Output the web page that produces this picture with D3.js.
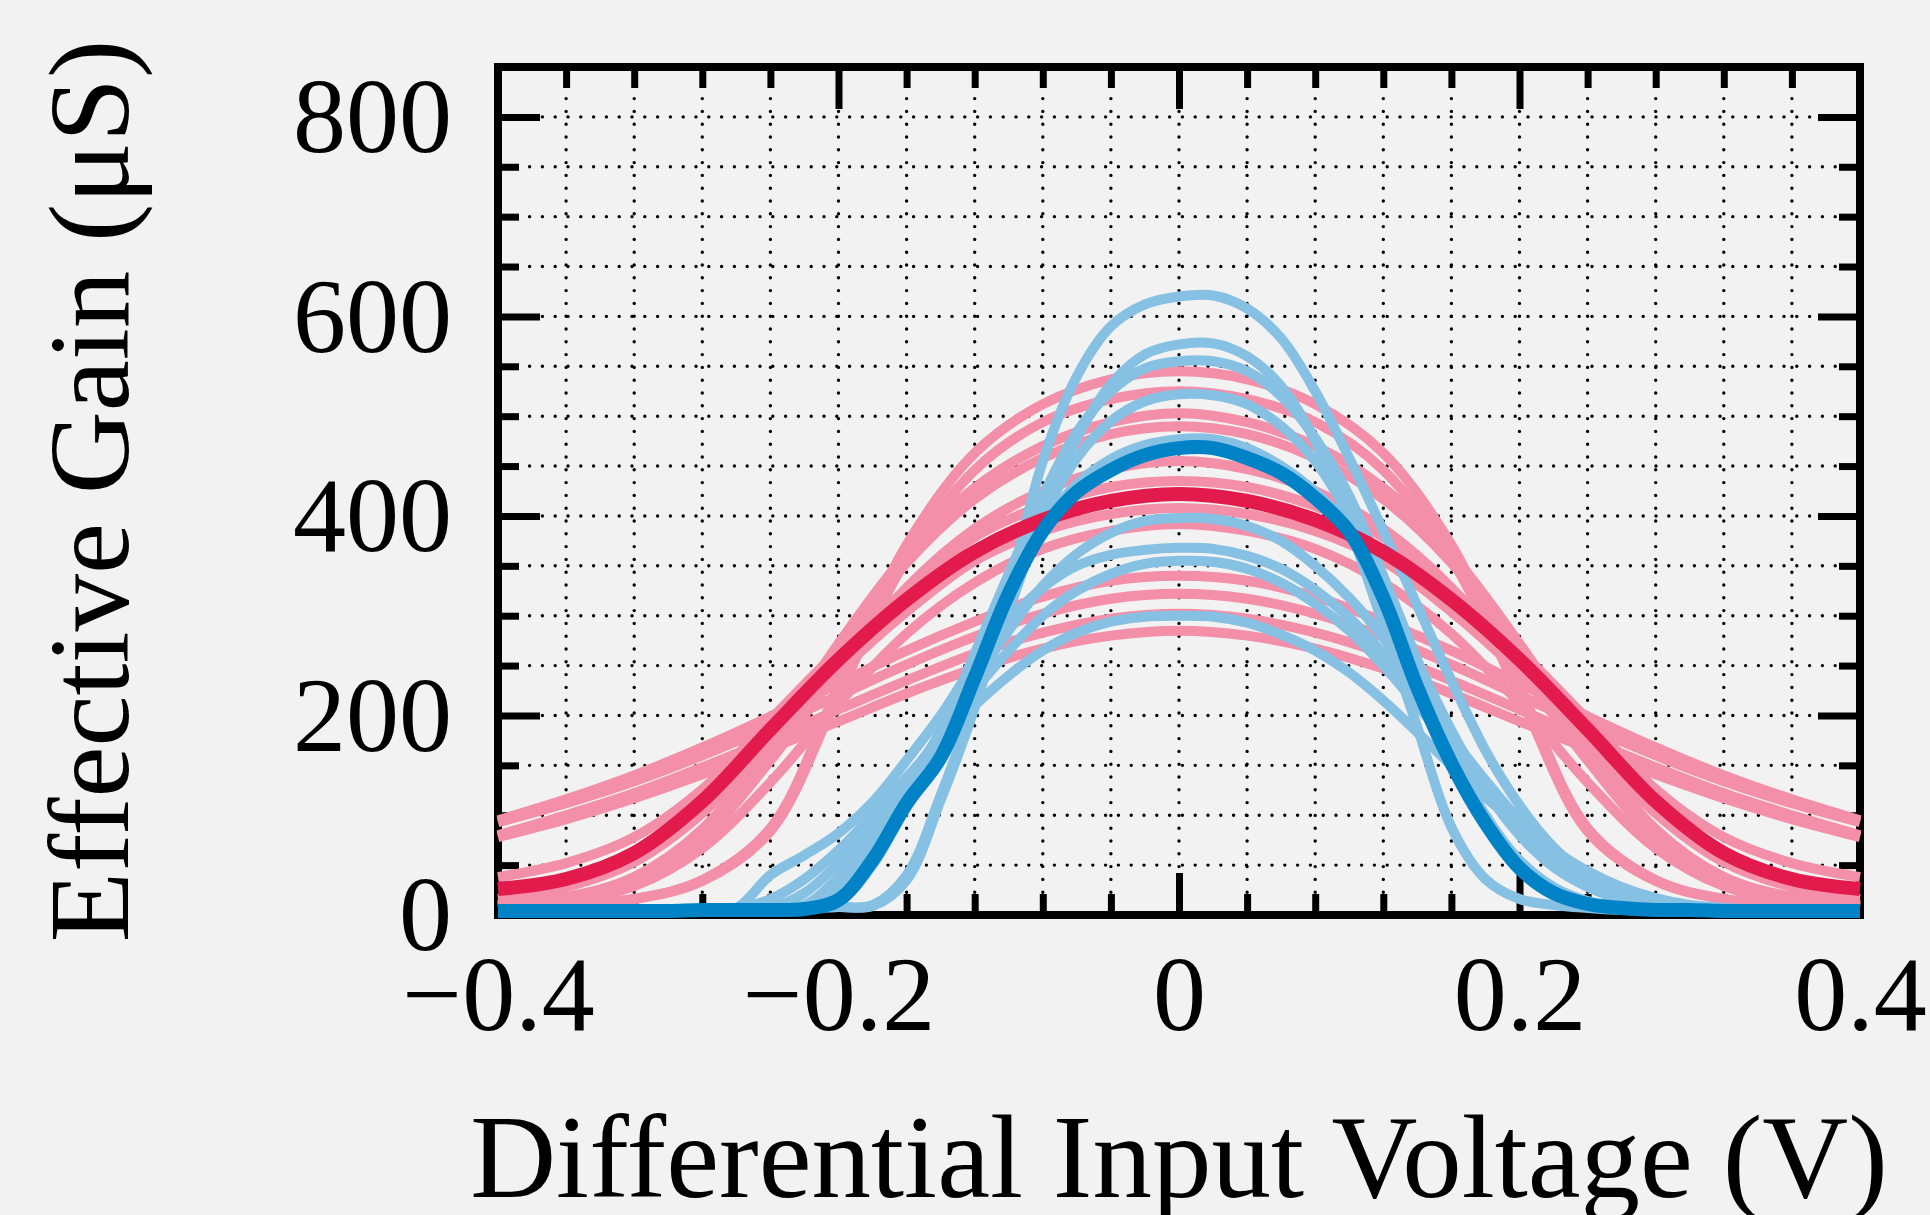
<!DOCTYPE html>
<html>
<head>
<meta charset="utf-8">
<script src="https://cdn.jsdelivr.net/npm/d3@7"></script>
<style>
  body { margin: 0; background: #f2f2f2; }
  text { font-family: "Liberation Serif", "DejaVu Serif", serif; fill: #000; }
</style>
</head>
<body>
<svg id="chart" width="1930" height="1215"></svg>
<script>
// voltage grids (V)
const pinkVolts = [-0.4, -0.36, -0.32, -0.28, -0.24, -0.2, -0.16, -0.12, -0.08, -0.04, 0,
                   0.04, 0.08, 0.12, 0.16, 0.2, 0.24, 0.28, 0.32, 0.36, 0.4];
const blueVolts = [-0.4, -0.38, -0.36, -0.34, -0.32, -0.3, -0.28, -0.26, -0.24, -0.22, -0.2,
                   -0.18, -0.16, -0.14, -0.12, -0.1, -0.08, -0.06, -0.04, -0.02, 0,
                   0.02, 0.04, 0.06, 0.08, 0.1, 0.12, 0.14, 0.16, 0.18, 0.2,
                   0.22, 0.24, 0.26, 0.28, 0.3, 0.32, 0.34, 0.36, 0.38, 0.4];

// individual pink traces (uS), on pinkVolts
const pinkRuns = [
  [6, 10, 16, 35, 87, 229, 371, 463, 512, 537, 545, 537, 512, 463, 371, 229, 87, 35, 16, 10, 6],
  [7, 10, 16, 34, 84, 221, 357, 446, 494, 517, 525, 517, 494, 446, 357, 221, 84, 34, 16, 10, 7],
  [10, 18, 38, 86, 171, 272, 362, 428, 470, 494, 503, 494, 470, 428, 362, 272, 171, 86, 38, 18, 10],
  [10, 17, 37, 83, 167, 265, 353, 417, 458, 482, 490, 482, 458, 417, 353, 265, 167, 83, 37, 17, 10],
  [9, 16, 34, 77, 155, 246, 328, 387, 425, 447, 455, 447, 425, 387, 328, 246, 155, 77, 34, 16, 9],
  [38, 52, 78, 126, 196, 265, 326, 379, 410, 429, 435, 429, 410, 379, 326, 265, 196, 126, 78, 52, 38],
  [16, 28, 53, 102, 173, 243, 304, 355, 385, 402, 408, 402, 385, 355, 304, 243, 173, 102, 53, 28, 16],
  [8, 14, 29, 67, 133, 212, 282, 333, 367, 385, 392, 385, 367, 333, 282, 212, 133, 67, 29, 14, 8],
  [95, 116, 140, 168, 199, 232, 265, 294, 319, 335, 340, 335, 319, 294, 265, 232, 199, 168, 140, 116, 95],
  [93, 112, 134, 160, 189, 220, 251, 279, 302, 317, 322, 317, 302, 279, 251, 220, 189, 160, 134, 112, 93],
  [80, 100, 122, 148, 176, 206, 235, 262, 283, 297, 302, 297, 283, 262, 235, 206, 176, 148, 122, 100, 80],
  [78, 96, 117, 141, 167, 194, 222, 247, 267, 280, 285, 280, 267, 247, 222, 194, 167, 141, 117, 96, 78]
];
const pinkMean = [26, 36, 62, 114, 186, 256, 316, 364, 396, 415, 422, 415, 396, 364, 316, 256, 186, 114, 62, 36, 26];

// individual blue traces (uS), on blueVolts
const blueRuns = [
  [4, 4, 4, 4, 4, 4, 4, 5, 6, 7, 8, 9, 35, 115, 208, 325, 455, 540, 590, 612, 620,
   621, 608, 578, 525, 458, 385, 310, 235, 165, 110, 68, 40, 22, 12, 7, 5, 4, 4, 4, 4],
  [4, 4, 4, 4, 4, 4, 4, 5, 6, 7, 8, 10, 40, 120, 212, 305, 400, 478, 532, 562, 572,
   573, 560, 530, 475, 390, 290, 188, 88, 36, 16, 10, 7, 5, 4, 4, 4, 4, 4, 4, 4],
  [4, 4, 4, 4, 4, 4, 5, 5, 5, 8, 30, 75, 128, 185, 262, 342, 420, 484, 525, 548, 555,
   555, 545, 520, 478, 420, 340, 255, 170, 95, 45, 20, 10, 6, 5, 4, 4, 4, 4, 4, 4],
  [4, 4, 4, 4, 4, 4, 5, 5, 5, 6, 18, 58, 115, 168, 248, 330, 400, 458, 495, 515, 522,
   521, 512, 490, 455, 400, 330, 255, 185, 125, 80, 48, 28, 15, 8, 6, 5, 4, 4, 4, 4],
  [4, 4, 4, 4, 4, 4, 5, 5, 5, 6, 13, 50, 108, 160, 242, 326, 390, 432, 457, 471, 477,
   477, 468, 450, 424, 388, 328, 245, 165, 100, 55, 28, 14, 8, 5, 4, 4, 4, 4, 4, 4],
  [4, 4, 4, 4, 4, 4, 5, 5, 6, 10, 38, 80, 128, 180, 235, 285, 330, 362, 383, 395, 398,
   397, 390, 375, 350, 318, 278, 230, 180, 132, 88, 55, 32, 18, 10, 6, 5, 4, 4, 4, 4],
  [4, 4, 4, 4, 4, 4, 5, 7, 40, 60, 82, 113, 155, 200, 252, 295, 328, 350, 361, 366, 368,
   367, 360, 347, 326, 298, 262, 222, 178, 135, 95, 62, 37, 21, 12, 7, 5, 4, 4, 4, 4],
  [4, 4, 4, 4, 4, 4, 5, 5, 7, 22, 52, 90, 135, 180, 225, 265, 300, 325, 342, 352, 355,
   354, 347, 333, 312, 285, 250, 210, 168, 125, 85, 54, 32, 18, 10, 6, 5, 4, 4, 4, 4],
  [4, 4, 4, 4, 4, 4, 5, 6, 16, 36, 65, 100, 138, 175, 210, 240, 265, 283, 294, 299, 300,
   299, 293, 281, 265, 243, 215, 183, 150, 118, 90, 65, 44, 28, 17, 10, 7, 5, 4, 4, 4]
];
const blueMean = [4, 4, 4, 4, 4, 4, 5, 5, 5, 6, 15, 55, 112, 158, 238, 322, 385, 424, 446, 461, 468,
                  468, 458, 443, 418, 384, 318, 228, 152, 92, 47, 22, 11, 7, 5, 5, 4, 4, 4, 4, 4];

// axes
const xGrid = [-0.36, -0.32, -0.28, -0.24, -0.2, -0.16, -0.12, -0.08, -0.04, 0,
               0.04, 0.08, 0.12, 0.16, 0.2, 0.24, 0.28, 0.32, 0.36];
const xMinor = [-0.36, -0.32, -0.28, -0.24, -0.16, -0.12, -0.08, -0.04,
                0.04, 0.08, 0.12, 0.16, 0.24, 0.28, 0.32, 0.36];
const xMajor = [-0.4, -0.2, 0, 0.2, 0.4];
const xLabels = ["\u22120.4", "\u22120.2", "0", "0.2", "0.4"];
const yGrid = [50, 100, 150, 200, 250, 300, 350, 400, 450, 500, 550, 600, 650, 700, 750, 800];
const yMinor = [50, 100, 150, 250, 300, 350, 450, 500, 550, 650, 700, 750, 850];
const yMajor = [0, 200, 400, 600, 800];

const pinkLight = "#f38fa9", pinkDark = "#e31a4c";
const blueLight = "#86c1e4", blueDark = "#0082c6";

const svg = d3.select("#chart");
const x = d3.scaleLinear().domain([-0.4, 0.4]).range([498, 1860]);
const y = d3.scaleLinear().domain([0, 850]).range([915, 67]);

// dotted grid
const grid = svg.append("g")
    .attr("stroke", "#000")
    .attr("stroke-width", 3.4)
    .attr("stroke-linecap", "round")
    .attr("stroke-dasharray", "0 12.8");

grid.selectAll(".gx")
    .data(xGrid)
    .enter()
    .append("line")
    .attr("x1", d => x(d)).attr("x2", d => x(d))
    .attr("y1", y(850) + 6).attr("y2", y(0));

grid.selectAll(".gy")
    .data(yGrid)
    .enter()
    .append("line")
    .attr("y1", d => y(d)).attr("y2", d => y(d))
    .attr("x1", x(-0.4) + 6).attr("x2", x(0.4));

// frame
svg.append("rect")
    .attr("x", x(-0.4))
    .attr("y", y(850))
    .attr("width", x(0.4) - x(-0.4))
    .attr("height", y(0) - y(850))
    .attr("fill", "none")
    .attr("stroke", "#000")
    .attr("stroke-width", 8);

// inward ticks on all four sides
function addTicks(axis, values, size, transform) {
    svg.append("g")
        .attr("transform", transform)
        .call(axis.tickValues(values).tickSize(-size).tickFormat(""))
        .call(g => g.select(".domain").remove())
        .selectAll("line")
        .attr("stroke", "#000")
        .attr("stroke-width", 7);
}
addTicks(d3.axisBottom(x), xMajor, 42, `translate(0, ${y(0)})`);
addTicks(d3.axisBottom(x), xMinor, 21, `translate(0, ${y(0)})`);
addTicks(d3.axisTop(x), xMajor, 42, `translate(0, ${y(850)})`);
addTicks(d3.axisTop(x), xMinor, 21, `translate(0, ${y(850)})`);
addTicks(d3.axisLeft(y), yMajor, 42, `translate(${x(-0.4)}, 0)`);
addTicks(d3.axisLeft(y), yMinor, 21, `translate(${x(-0.4)}, 0)`);
addTicks(d3.axisRight(y), yMajor, 42, `translate(${x(0.4)}, 0)`);
addTicks(d3.axisRight(y), yMinor, 21, `translate(${x(0.4)}, 0)`);

// tick labels
svg.append("g")
    .attr("transform", `translate(0, ${y(0)})`)
    .call(d3.axisBottom(x).tickValues(xMajor).tickSize(0).tickFormat((d, i) => xLabels[i]))
    .call(g => g.select(".domain").remove())
    .selectAll("text")
    .attr("y", 115)
    .attr("dy", 0)
    .style("font-family", "'Liberation Serif', serif")
    .style("font-size", "106px");

svg.append("g")
    .attr("transform", `translate(${x(-0.4)}, 0)`)
    .call(d3.axisLeft(y).tickValues(yMajor).tickSize(0).tickFormat(d3.format("d")))
    .call(g => g.select(".domain").remove())
    .selectAll("text")
    .attr("x", -46)
    .attr("dy", "0.33em")
    .style("font-family", "'Liberation Serif', serif")
    .style("font-size", "106px");

// axis titles
svg.append("text")
    .attr("x", (x(-0.4) + x(0.4)) / 2)
    .attr("y", 1197)
    .attr("text-anchor", "middle")
    .style("font-size", "119px")
    .text("Differential Input Voltage (V)");

svg.append("text")
    .attr("transform", `translate(128, ${(y(0) + y(850)) / 2}) rotate(-90)`)
    .attr("text-anchor", "middle")
    .style("font-size", "115px")
    .text("Effective Gain (\u03bcS)");

// traces
const smoothLine = d3.line()
    .x(d => x(d[0]))
    .y(d => y(Math.max(d[1], 0)))
    .curve(d3.curveCatmullRom.alpha(0.5));

const traces = svg.append("g").attr("fill", "none");

function drawRuns(volts, runs, color, width) {
    traces.selectAll(null)
        .data(runs)
        .enter()
        .append("path")
        .attr("d", r => smoothLine(r.map((g, i) => [volts[i], g])))
        .attr("stroke", color)
        .attr("stroke-width", width)
        .attr("stroke-linejoin", "round");
}

drawRuns(pinkVolts, pinkRuns, pinkLight, 10);
drawRuns(blueVolts, blueRuns, blueLight, 10);
drawRuns(pinkVolts, [pinkMean], pinkDark, 14);
drawRuns(blueVolts, [blueMean], blueDark, 14);
</script>
</body>
</html>
